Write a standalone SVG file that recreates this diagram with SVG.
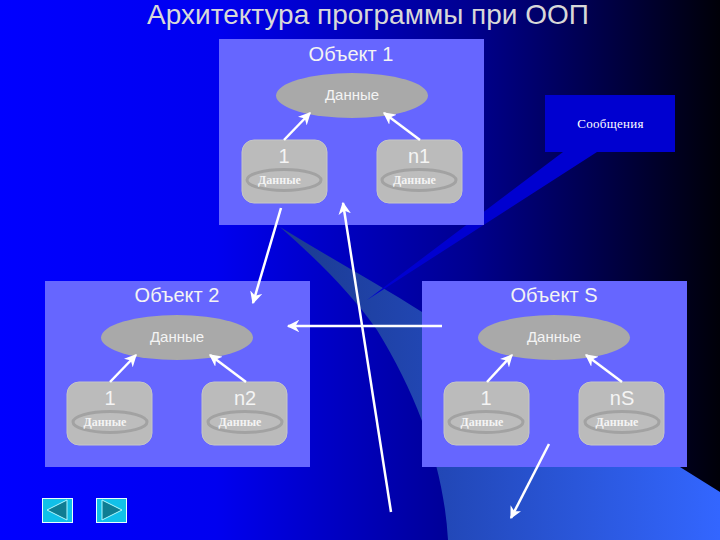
<svg xmlns="http://www.w3.org/2000/svg" width="720" height="540" viewBox="0 0 720 540">
<defs>
<linearGradient id="bg" x1="0" y1="0" x2="1" y2="0"><stop offset="0" stop-color="#0000ff"/><stop offset="0.3" stop-color="#0000f0"/><stop offset="0.65" stop-color="#000090"/><stop offset="1" stop-color="#000008"/></linearGradient>
<linearGradient id="sw" gradientUnits="userSpaceOnUse" x1="300" y1="0" x2="720" y2="0"><stop offset="0" stop-color="#1c3c94"/><stop offset="0.35" stop-color="#2248b8"/><stop offset="1" stop-color="#3366ff"/></linearGradient>
<marker id="ah" viewBox="0 0 10 10" refX="9" refY="5" markerWidth="5" markerHeight="5" orient="auto" markerUnits="strokeWidth"><path d="M0 0L10 5L0 10L3 5Z" fill="#fff"/></marker>
</defs>
<style>
.box{fill:#6666ff}
.big{fill:#a9a9a9}
.sub{fill:#bbb;stroke:#c6c6c6;stroke-width:1}
.in{fill:#bdbdbd;stroke:#a2a2a2;stroke-width:3}
.h{font:20px "Liberation Sans",Arial,sans-serif;fill:#f4f4f4;text-anchor:middle}
.d{font:15px "Liberation Sans",Arial,sans-serif;fill:#f4f4f4;text-anchor:middle}
.s{font:bold 12px "Liberation Serif","Times New Roman",serif;fill:#f4f4f4;text-anchor:middle}
.m{font:13px "Liberation Serif","Times New Roman",serif;fill:#fff;text-anchor:middle;letter-spacing:.3px}
.c{stroke:#fff;stroke-width:2.5;fill:none;marker-end:url(#ah)}
.nav{fill:#11c0e8;stroke:#e8ffff;stroke-width:1}
.tri{fill:#0f7d92;stroke:#b0f8ff;stroke-width:1}
</style>
<rect width="720" height="540" fill="url(#bg)"/>
<path d="M280 227C330 258 380 285 422 312L680 467L720 492V540H448C444 470 420 400 377 330C355 298 320 262 280 227Z" fill="url(#sw)"/>
<text x="368" y="24" font-family="'Liberation Sans',Arial,sans-serif" font-size="28" fill="#d8d8d8" text-anchor="middle">Архитектура программы при ООП</text>
<g id="message">
<path d="M545 95H675V152H597L367 300L563 152H545Z" fill="#0000d0"/>
<text class="m" x="610.500" y="128">Сообщения</text>
</g>
<g id="obj1">
<rect class="box" x="219" y="39" width="265" height="186"/>
<text class="h" x="351" y="61">Объект 1</text>
<ellipse class="big" cx="352" cy="95.500" rx="76" ry="22.500"/>
<text class="d" x="352" y="100">Данные</text>
</g>
<g id="obj1-1">
<rect class="sub" x="242" y="140" width="85" height="63" rx="12"/>
<text class="h" x="284" y="163">1</text>
<ellipse class="in" cx="284" cy="180" rx="37" ry="10.500"/>
<text class="s" x="279.500" y="184">Данные</text>
</g>
<g id="obj1-n">
<rect class="sub" x="377" y="140" width="85" height="63" rx="12"/>
<text class="h" x="419" y="163">n1</text>
<ellipse class="in" cx="419" cy="180" rx="37" ry="10.500"/>
<text class="s" x="414.500" y="184">Данные</text>
</g>
<g id="obj2">
<rect class="box" x="45" y="281" width="265" height="186"/>
<text class="h" x="177" y="302">Объект 2</text>
<ellipse class="big" cx="177" cy="337.500" rx="76" ry="22.500"/>
<text class="d" x="177" y="342">Данные</text>
</g>
<g id="obj2-1">
<rect class="sub" x="67" y="382" width="85" height="63" rx="12"/>
<text class="h" x="110" y="405">1</text>
<ellipse class="in" cx="110" cy="422" rx="37" ry="10.500"/>
<text class="s" x="105" y="426">Данные</text>
</g>
<g id="obj2-n">
<rect class="sub" x="202" y="382" width="85" height="63" rx="12"/>
<text class="h" x="245" y="405">n2</text>
<ellipse class="in" cx="245" cy="422" rx="37" ry="10.500"/>
<text class="s" x="240" y="426">Данные</text>
</g>
<g id="objS">
<rect class="box" x="422" y="281" width="265" height="186"/>
<text class="h" x="554" y="302">Объект S</text>
<ellipse class="big" cx="554" cy="337.500" rx="76" ry="22.500"/>
<text class="d" x="554" y="342">Данные</text>
</g>
<g id="objS-1">
<rect class="sub" x="444" y="382" width="85" height="63" rx="12"/>
<text class="h" x="486" y="405">1</text>
<ellipse class="in" cx="486" cy="422" rx="37" ry="10.500"/>
<text class="s" x="482" y="426">Данные</text>
</g>
<g id="objS-n">
<rect class="sub" x="579" y="382" width="85" height="63" rx="12"/>
<text class="h" x="622" y="405">nS</text>
<ellipse class="in" cx="622" cy="422" rx="37" ry="10.500"/>
<text class="s" x="617" y="426">Данные</text>
</g>
<g id="connectors">
<line class="c" x1="284" y1="140" x2="310" y2="113"/>
<line class="c" x1="420" y1="140" x2="384" y2="113"/>
<line class="c" x1="110" y1="382" x2="136" y2="355"/>
<line class="c" x1="246" y1="382" x2="210" y2="355"/>
<line class="c" x1="487" y1="382" x2="512" y2="355"/>
<line class="c" x1="622" y1="382" x2="586" y2="355"/>
<line class="c" x1="281" y1="208" x2="253" y2="303"/>
<line class="c" x1="391" y1="512" x2="343" y2="203"/>
<line class="c" x1="442" y1="326" x2="288" y2="326"/>
<line class="c" x1="549" y1="444" x2="511" y2="518"/>
</g>
<g id="nav-prev">
<rect class="nav" x="42.500" y="498.500" width="30" height="24"/>
<path class="tri" d="M67 500V520L47 510Z"/>
</g>
<g id="nav-next">
<rect class="nav" x="96.500" y="498.500" width="30" height="24"/>
<path class="tri" d="M102 500V520L122 510Z"/>
</g>
</svg>
